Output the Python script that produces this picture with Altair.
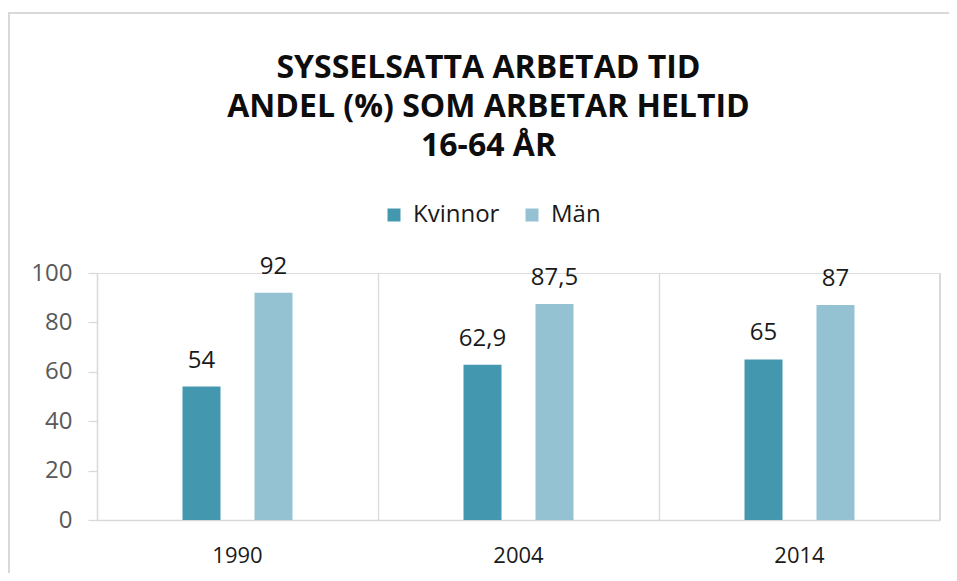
import altair as alt
import pandas as pd

years = ["1990", "2004", "2014"]
series = ["Kvinnor", "Män"]
kvinnor = [54, 62.9, 65]
man = [92, 87.5, 87]
colors = ["#4398B0", "#94C2D3"]
title_lines = ["SYSSELSATTA ARBETAD TID", "ANDEL (%) SOM ARBETAR HELTID", "16-64 ÅR"]


def fmt(v):
    return (str(int(v)) if float(v).is_integer() else str(v)).replace(".", ",")


rows = []
for i, y in enumerate(years):
    for s, vals in zip(series, [kvinnor, man]):
        rows.append({"year": y, "series": s, "value": vals[i], "label": fmt(vals[i])})
df = pd.DataFrame(rows)

W, H = 843, 247
FONT = "Open Sans"

x = alt.X(
    "year:N",
    sort=years,
    scale=alt.Scale(paddingInner=0, paddingOuter=0),
    axis=alt.Axis(
        title=None,
        labelAngle=0,
        ticks=False,
        grid=True,
        bandPosition=0,
        gridColor="#d9d9d9",
        gridWidth=1.3,
        domainColor="#d9d9d9",
        domainWidth=1.3,
        labelFont=FONT,
        labelFontSize=22,
        labelColor="#1a1a1a",
        labelPadding=25,
        labelBaseline="top",
    ),
)
xo = alt.XOffset("series:N", sort=series, scale=alt.Scale(paddingInner=0.097, paddingOuter=1))
y = alt.Y(
    "value:Q",
    scale=alt.Scale(domain=[0, 100], nice=False),
    axis=alt.Axis(
        title=None,
        values=[0, 20, 40, 60, 80, 100],
        grid=False,
        tickColor="#d9d9d9",
        tickSize=9,
        tickWidth=1.3,
        domainColor="#d9d9d9",
        domainWidth=1.3,
        labelFont=FONT,
        labelFontSize=24,
        labelColor="#595959",
        labelPadding=16,
    ),
)
color = alt.Color(
    "series:N",
    sort=series,
    scale=alt.Scale(domain=series, range=colors),
    legend=alt.Legend(
        title=None,
        orient="none",
        direction="horizontal",
        legendX=285,
        legendY=-70,
        symbolType="square",
        symbolSize=169,
        symbolStrokeWidth=0,
        symbolOpacity=1,
        labelFont=FONT,
        labelFontSize=24,
        labelColor="#1a1a1a",
        labelOffset=7,
        columnPadding=20,
        padding=0,
    ),
)

base = alt.Chart(df)
bars = base.mark_bar(opacity=1, width=38).encode(x=x, xOffset=xo, y=y, color=color)
labels = base.mark_text(
    baseline="alphabetic", dy=-19, font=FONT, fontSize=24, color="#1a1a1a"
).encode(x=x, xOffset=xo, y="value:Q", text="label:N")
right_edge = base.mark_rule(color="#d9d9d9", strokeWidth=1.3).encode(
    x=alt.value(W), y=alt.value(0), y2=alt.value(H)
)
frame_top = base.mark_rule(color="#d9d9d9", strokeWidth=2).encode(
    x=alt.value(-92), x2=alt.value(W + 20), y=alt.value(-260)
)
frame_left = base.mark_rule(color="#d9d9d9", strokeWidth=2).encode(
    x=alt.value(-88), y=alt.value(-260), y2=alt.value(H + 80)
)

chart = (
    alt.layer(frame_top, frame_left, right_edge, bars, labels)
    .properties(
        width=W,
        height=H,
        autosize=alt.AutoSizeParams(type="none"),
        padding={"left": 89, "top": 265, "right": 9, "bottom": 53},
        title=alt.TitleParams(
            text=title_lines,
            font=FONT,
            fontSize=32,
            fontWeight="bold",
            color="#0d0d0d",
            lineHeight=39,
            anchor="middle",
            frame="group",
            baseline="bottom",
            dx=-30,
            offset=-183,
        ),
    )
    .configure_view(stroke=None)
    .configure(background="white")
)

chart.save("out.html", embed_options={"renderer": "svg", "actions": False})
